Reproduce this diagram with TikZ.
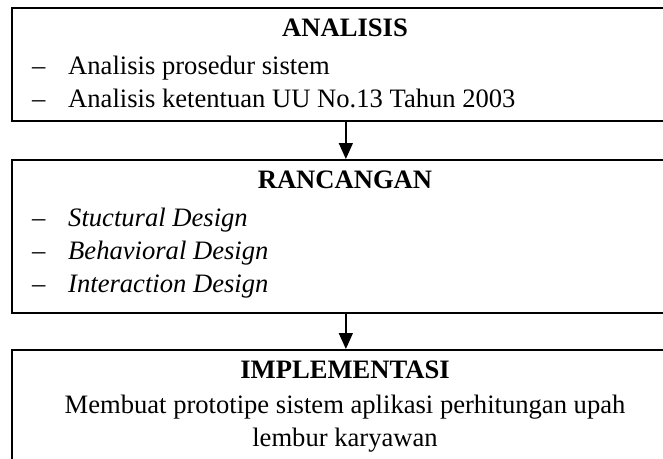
\documentclass[tikz,border=0pt]{standalone}
\usepackage{fontspec}
\setmainfont{Liberation Serif}
\usetikzlibrary{arrows.meta}
\begin{document}
\begin{tikzpicture}[x=1pt,y=1pt,
  frame/.style={draw=black,line width=1.7pt,rectangle,inner sep=0pt,anchor=north west,minimum width=668pt},
  txt/.style={inner sep=0pt,font=\fontsize{26.6}{33}\selectfont},
  title/.style={txt,font=\fontsize{26.6}{33}\selectfont\bfseries,anchor=base},
  item/.style={txt,anchor=base west},
  flow/.style={line width=1.5pt,-{Triangle[width=14pt,length=16pt]}}]
\useasboundingbox (0,0) rectangle (663,-458);
\clip (0,0) rectangle (663,-458);
\fill[white] (0,0) rectangle (663,-458);
% boxes
\node[frame,minimum height=113pt] (b1) at (11,-7) {};
\node[frame,minimum height=153pt] (b2) at (11,-159) {};
\node[frame,minimum height=140pt] (b3) at (11,-349) {};
% box 1
\node[title] (t1) at (345,-36) {ANALISIS};
\node[item] (d11) at (32,-74) {–};
\node[item] (i11) at (68,-74) {Analisis prosedur sistem};
\node[item] (d12) at (32,-107) {–};
\node[item] (i12) at (68,-107) {Analisis ketentuan UU No.13 Tahun 2003};
% box 2
\node[title] (t2) at (345,-188) {RANCANGAN};
\node[item] (d21) at (32,-226) {–};
\node[item] (i21) at (68,-226) {\itshape Stuctural Design};
\node[item] (d22) at (32,-259) {–};
\node[item] (i22) at (68,-259) {\itshape Behavioral Design};
\node[item] (d23) at (32,-292) {–};
\node[item] (i23) at (68,-292) {\itshape Interaction Design};
% box 3
\node[title] (t3) at (345,-378) {IMPLEMENTASI};
\node[txt,anchor=base] (l31) at (345,-413) {Membuat prototipe sistem aplikasi perhitungan upah};
\node[txt,anchor=base] (l32) at (345,-446) {lembur karyawan};
% arrows
\draw[flow] (b1.south) -- (b2.north);
\draw[flow] (b2.south) -- (b3.north);
\end{tikzpicture}
\end{document}
